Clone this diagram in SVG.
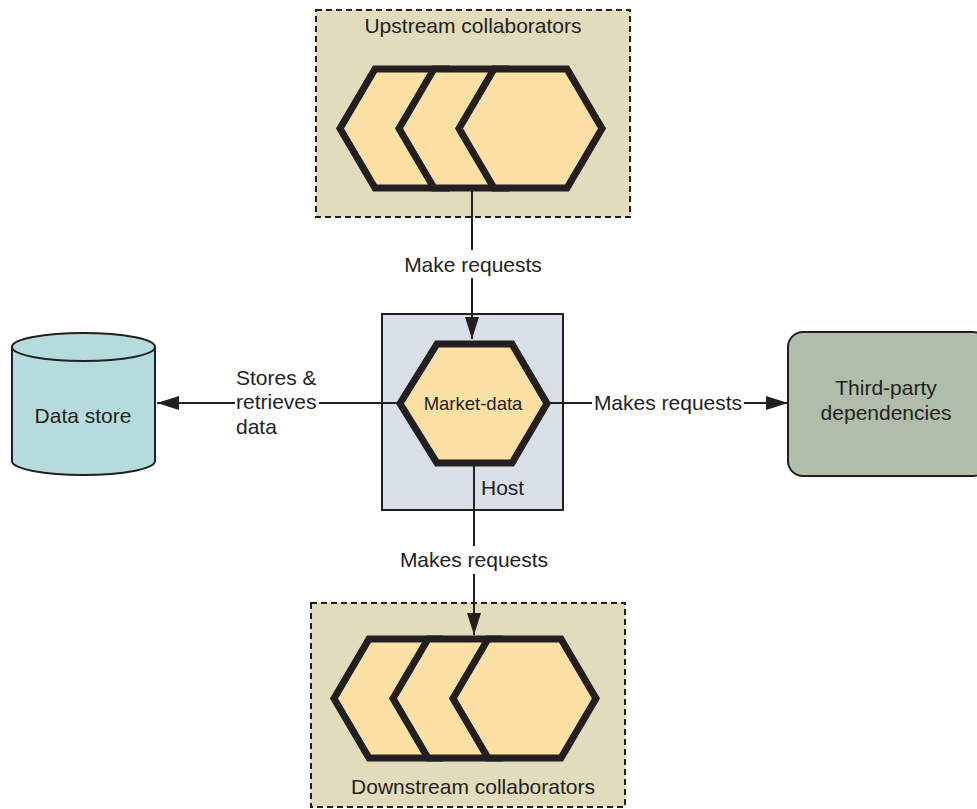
<svg xmlns="http://www.w3.org/2000/svg" width="977" height="809" viewBox="0 0 977 809">
<style>
text{font-family:"Liberation Sans",Arial,sans-serif;fill:#231f20;font-size:21px}
.grp{fill:#e2dcbc;stroke:#231f20;stroke-width:2;stroke-dasharray:6 4}
.hex{fill:#fde0a4;stroke:#231f20;stroke-width:7;stroke-linejoin:miter}
.conn{stroke:#231f20;stroke-width:2;fill:none}
.c{text-anchor:middle}
</style>
<defs>
<marker id="ah" viewBox="0 0 22 14" refX="22" refY="7" markerWidth="22" markerHeight="14" markerUnits="userSpaceOnUse" orient="auto">
<path d="M0,0 L22,7 L0,14 Z" fill="#231f20"/>
</marker>
</defs>
<g id="upstream">
<rect class="grp" x="316" y="10" width="314" height="207"/>
<text class="c" x="473" y="33">Upstream collaborators</text>
<path class="hex" d="M375,69 L447,69 L482,128.5 L447,188 L375,188 L340,128.5 Z"/>
<path class="hex" d="M434,69 L507,69 L542,128.5 L507,188 L434,188 L399,128.5 Z"/>
<path class="hex" d="M494,69 L567,69 L602,128.5 L567,188 L494,188 L459,128.5 Z"/>
</g>
<g id="downstream">
<rect class="grp" x="311" y="603" width="314" height="204"/>
<text class="c" x="473" y="794">Downstream collaborators</text>
<path class="hex" d="M369,639 L441,639 L476,698.5 L441,758 L369,758 L334,698.5 Z"/>
<path class="hex" d="M428,639 L501,639 L536,698.5 L501,758 L428,758 L393,698.5 Z"/>
<path class="hex" d="M488,639 L561,639 L596,698.5 L561,758 L488,758 L453,698.5 Z"/>
</g>
<g id="host">
<rect x="382" y="314" width="181" height="196" fill="#d8dfe8" stroke="#231f20" stroke-width="2"/>
<text x="481" y="495">Host</text>
</g>
<g id="connectors">
<line class="conn" x1="472" y1="188" x2="472" y2="339" marker-end="url(#ah)"/>
<line class="conn" x1="474" y1="463" x2="474" y2="635" marker-end="url(#ah)"/>
<line class="conn" x1="400" y1="403" x2="157" y2="403" marker-end="url(#ah)"/>
<line class="conn" x1="547" y1="403" x2="788" y2="403" marker-end="url(#ah)"/>
<rect x="398" y="250" width="150" height="28" fill="#fff"/>
<text class="c" x="473" y="272">Make requests</text>
<rect x="394" y="546" width="160" height="28" fill="#fff"/>
<text class="c" x="474" y="567">Makes requests</text>
<rect x="592" y="390" width="152" height="26" fill="#fff"/>
<text class="c" x="668" y="410">Makes requests</text>
<rect x="235" y="392" width="84" height="22" fill="#fff"/>
<text x="236" y="385">Stores &amp;</text>
<text x="236" y="409">retrieves</text>
<text x="236" y="434">data</text>
</g>
<g id="market-data">
<path class="hex" d="M437,344 L512,344 L547,403.5 L512,463 L437,463 L400,403.5 Z"/>
<text class="c" x="473" y="410" style="font-size:18.5px">Market-data</text>
</g>
<g id="data-store">
<path d="M12,347 L12,461 A71.5,14 0 0 0 155,461 L155,347" fill="#b4dcdd" stroke="#231f20" stroke-width="2"/>
<ellipse cx="83.5" cy="347" rx="71.5" ry="14" fill="#b4dcdd" stroke="#231f20" stroke-width="2"/>
<text class="c" x="83" y="423">Data store</text>
</g>
<g id="third-party">
<rect x="788" y="332" width="200" height="144" rx="15" fill="#b0bdaa" stroke="#231f20" stroke-width="2"/>
<text class="c" x="886" y="395">Third-party</text>
<text class="c" x="886" y="420">dependencies</text>
</g>
</svg>
